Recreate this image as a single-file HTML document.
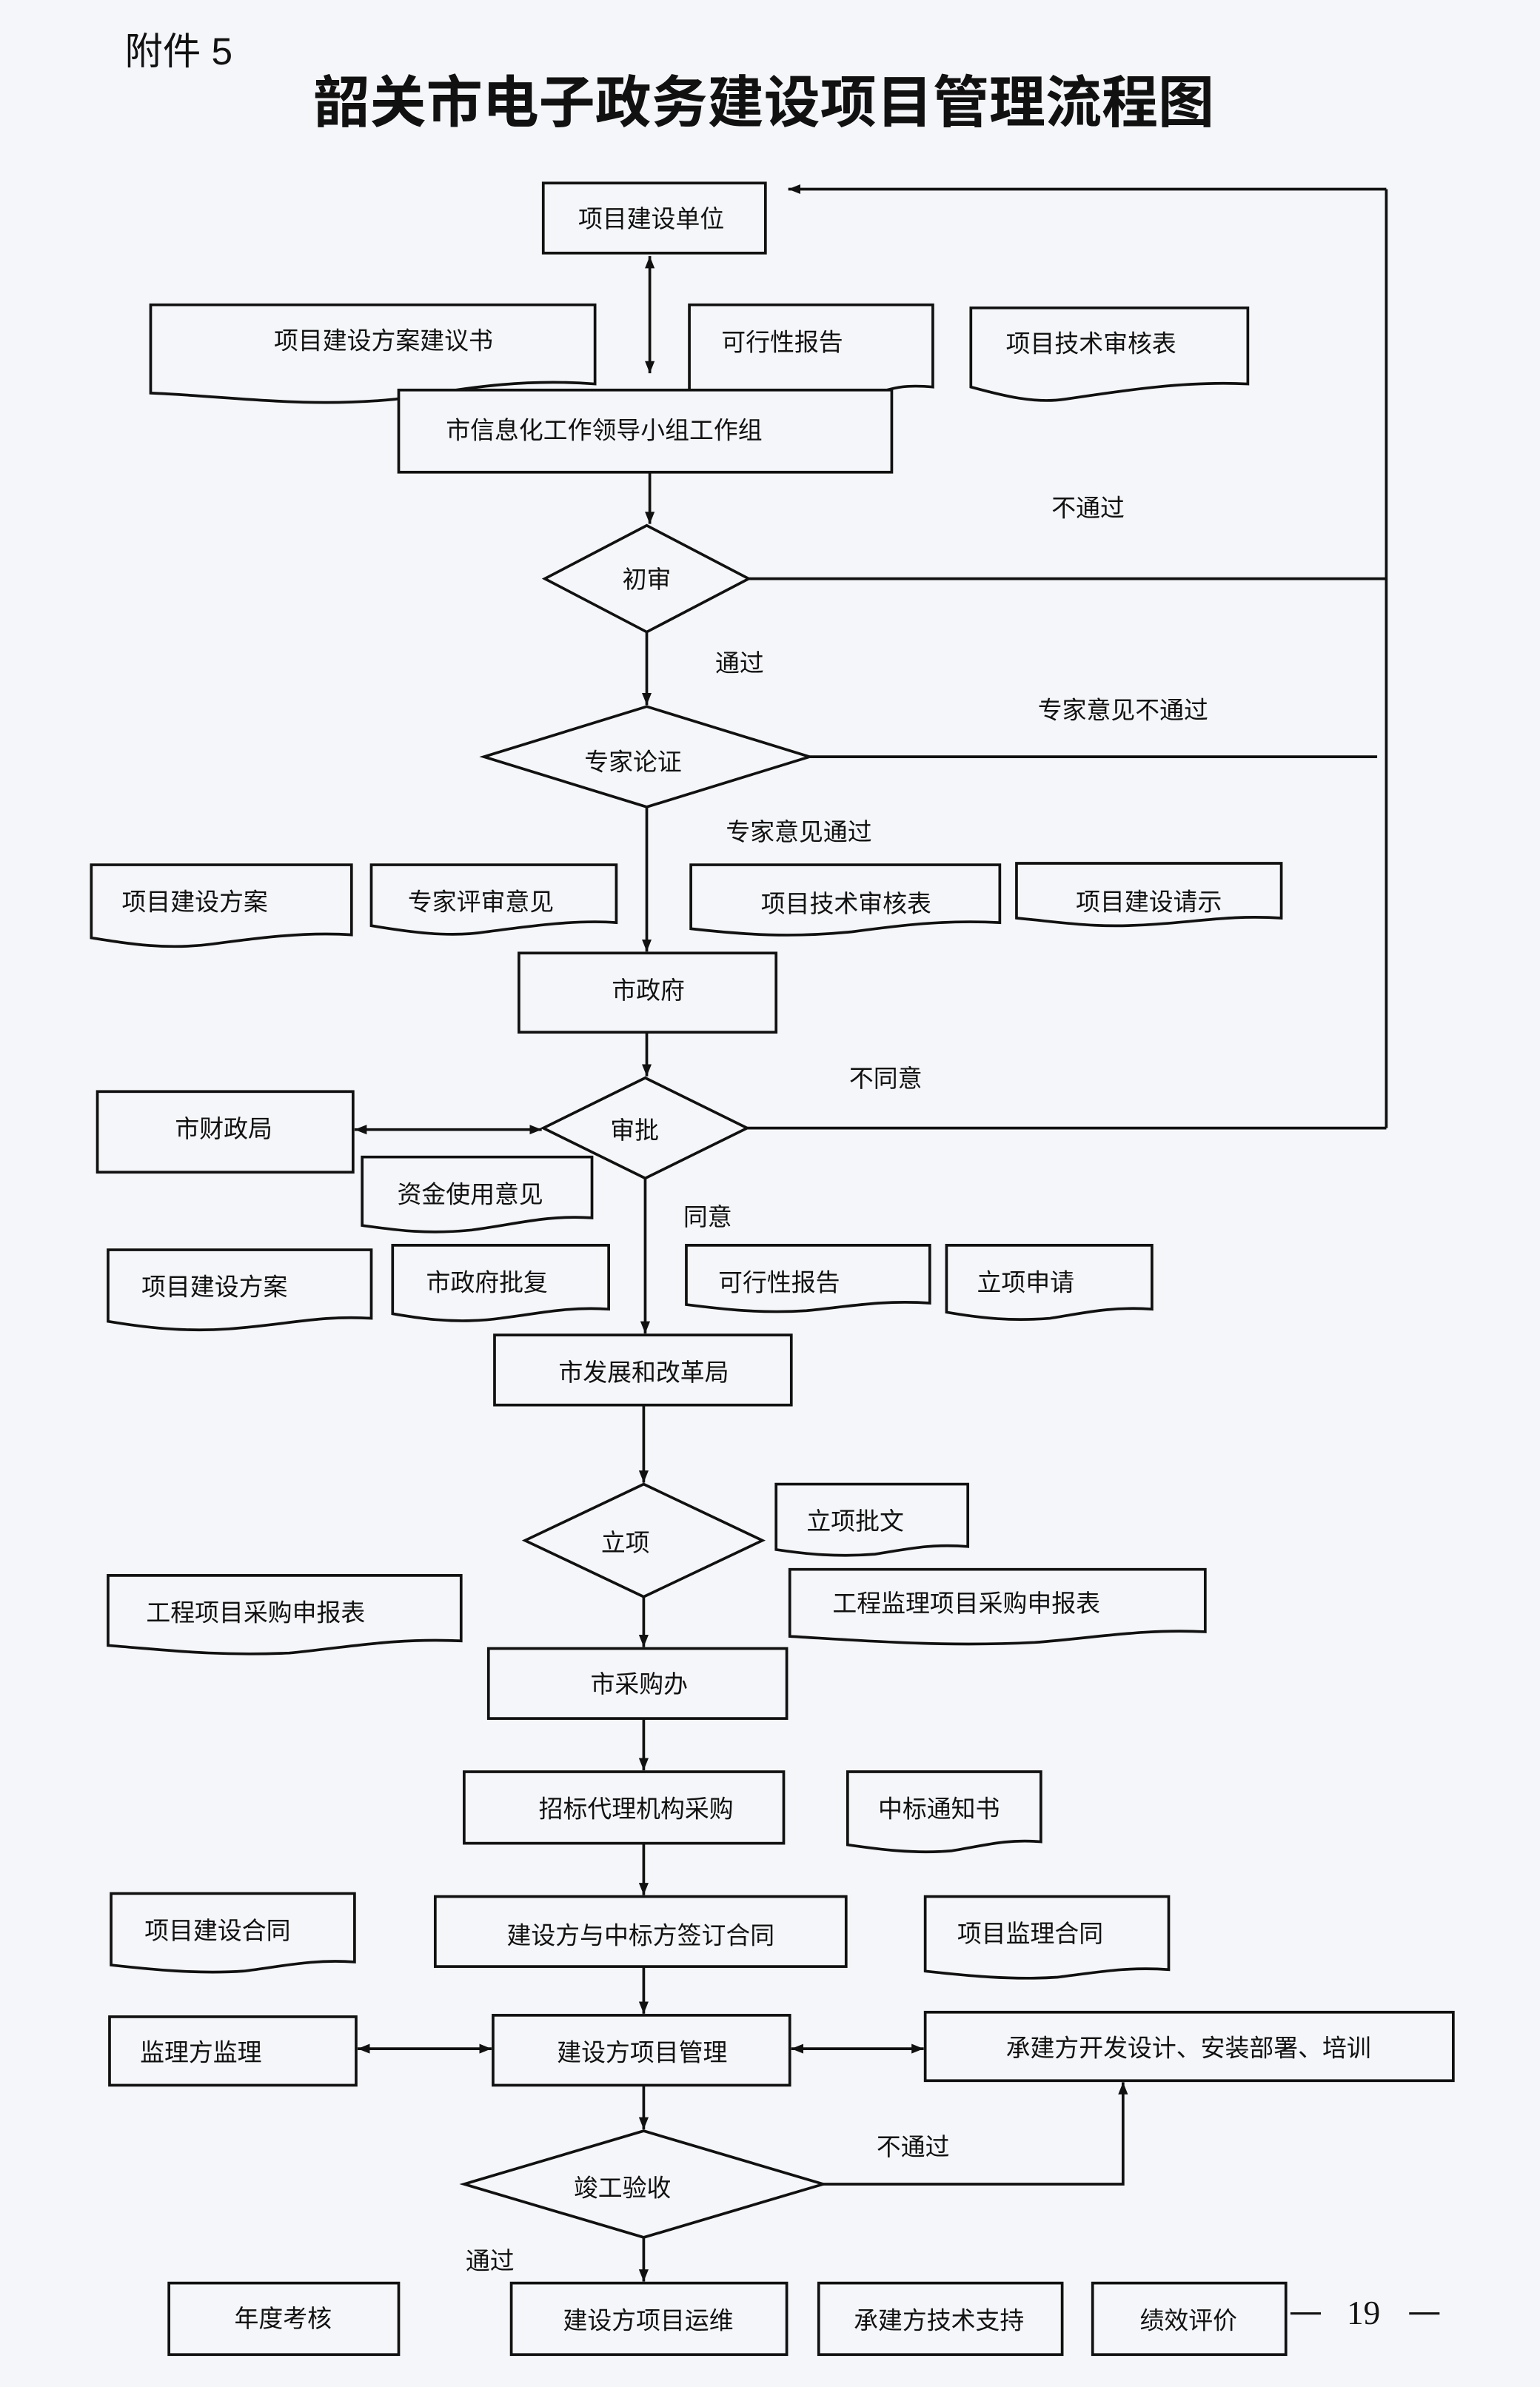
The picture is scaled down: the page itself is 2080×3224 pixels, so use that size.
<!DOCTYPE html>
<html><head><meta charset="utf-8"><style>
html,body{margin:0;padding:0;background:#f5f6f9;}
svg{display:block;}
text{font-family:"Liberation Sans","Noto Sans CJK SC",sans-serif;fill:#111;}
.t{font-size:16px;}
</style></head><body>
<svg width="2080" height="3224" viewBox="0 0 1012 1568" xmlns="http://www.w3.org/2000/svg">
<defs>
<marker id="a" viewBox="0 0 10 10" refX="10" refY="5" markerWidth="8" markerHeight="8" orient="auto-start-reverse" markerUnits="userSpaceOnUse"><path d="M0,1 L10,5 L0,9z" fill="#111"/></marker>
</defs>
<rect width="1012" height="1568" fill="#f5f6f9"/>
<text x="82" y="42" style="font-size:25px">附件 5</text>
<text x="502" y="80" text-anchor="middle" style="font-size:37px;font-weight:bold">韶关市电子政务建设项目管理流程图</text>
<!-- documents behind -->
<g fill="#f5f6f9" stroke="#111" stroke-width="1.8">
<path d="M99,200 H391 V252 C340,248 300,256 260,262 C200,268 150,260 99,258Z"/>
<path d="M453,200 H613 V254 C590,252 585,256 575,258 L453,258Z"/>
<path d="M638,202 H820 V252 C780,250 740,256 700,262 C680,265 660,260 638,254Z"/>
</g>
<g fill="none" stroke="#111" stroke-width="1.8">
<rect x="357" y="120" width="146" height="46"/>
<rect x="262" y="256" width="324" height="54" fill="#f5f6f9"/>
<rect x="341" y="626" width="169" height="52"/>
<rect x="64" y="717" width="168" height="53"/>
<rect x="325" y="877" width="195" height="46"/>
<rect x="321" y="1083" width="196" height="46"/>
<rect x="305" y="1164" width="210" height="47"/>
<rect x="286" y="1246" width="270" height="46"/>
<rect x="72" y="1325" width="162" height="45"/>
<rect x="324" y="1324" width="195" height="46"/>
<rect x="608" y="1322" width="347" height="45"/>
<rect x="111" y="1500" width="151" height="47"/>
<rect x="336" y="1500" width="181" height="47"/>
<rect x="538" y="1500" width="160" height="47"/>
<rect x="718" y="1500" width="127" height="47"/>
<path d="M358,380 L425,345 L492,380 L425,415Z"/>
<path d="M318,497 L425,464 L532,497 L425,530Z"/>
<path d="M357,741 L424,708 L491,741 L424,774Z"/>
<path d="M345,1012 L423,975 L501,1012 L423,1049Z"/>
<path d="M305,1435 L423,1400 L541,1435 L423,1470Z"/>
</g>
<g fill="#f5f6f9" stroke="#111" stroke-width="1.8">
<path d="M60,568 H231 V614 C200,612 170,616 140,620 C110,624 85,620 60,616Z"/>
<path d="M244,568 H405 V606 C380,604 350,608 320,612 C295,616 268,612 244,608Z"/>
<path d="M454,568 H657 V606 C620,604 590,608 560,612 C520,616 490,614 454,610Z"/>
<path d="M668,567 H842 V603 C810,601 790,605 760,607 C720,610 700,606 668,603Z"/>
<path d="M238,760 H389 V800 C360,798 340,804 310,808 C280,811 260,808 238,805Z"/>
<path d="M71,821 H244 V866 C210,864 190,870 150,873 C120,875 95,872 71,868Z"/>
<path d="M258,818 H400 V860 C370,858 350,864 320,867 C295,869 275,866 258,863Z"/>
<path d="M451,818 H611 V856 C580,854 560,858 530,861 C500,863 475,860 451,857Z"/>
<path d="M622,818 H757 V860 C730,858 710,863 690,866 C665,868 645,866 622,862Z"/>
<path d="M510,975 H636 V1016 C610,1014 595,1018 575,1021 C550,1023 530,1021 510,1018Z"/>
<path d="M71,1035 H303 V1078 C260,1076 230,1082 190,1086 C140,1088 110,1084 71,1081Z"/>
<path d="M519,1031 H792 V1072 C750,1070 720,1076 680,1079 C620,1082 570,1078 519,1075Z"/>
<path d="M557,1164 H684 V1210 C660,1208 645,1213 625,1216 C600,1218 578,1215 557,1212Z"/>
<path d="M73,1244 H233 V1289 C205,1287 185,1292 160,1295 C130,1297 100,1294 73,1291Z"/>
<path d="M608,1246 H768 V1294 C740,1292 720,1296 695,1299 C665,1301 635,1298 608,1295Z"/>
</g>
<g fill="none" stroke="#111" stroke-width="1.8">
<line x1="427" y1="168" x2="427" y2="245" marker-start="url(#a)" marker-end="url(#a)"/>
<line x1="911" y1="124" x2="518" y2="124" marker-end="url(#a)"/>
<line x1="911" y1="124" x2="911" y2="741"/>
<line x1="427" y1="310" x2="427" y2="344" marker-end="url(#a)"/>
<line x1="492" y1="380" x2="911" y2="380"/>
<line x1="425" y1="415" x2="425" y2="463" marker-end="url(#a)"/>
<line x1="532" y1="497" x2="905" y2="497"/>
<line x1="425" y1="530" x2="425" y2="625" marker-end="url(#a)"/>
<line x1="425" y1="678" x2="425" y2="707" marker-end="url(#a)"/>
<line x1="491" y1="741" x2="911" y2="741"/>
<line x1="233" y1="742" x2="356" y2="742" marker-start="url(#a)" marker-end="url(#a)"/>
<line x1="424" y1="774" x2="424" y2="876" marker-end="url(#a)"/>
<line x1="423" y1="923" x2="423" y2="974" marker-end="url(#a)"/>
<line x1="423" y1="1049" x2="423" y2="1082" marker-end="url(#a)"/>
<line x1="423" y1="1129" x2="423" y2="1163" marker-end="url(#a)"/>
<line x1="423" y1="1211" x2="423" y2="1245" marker-end="url(#a)"/>
<line x1="423" y1="1292" x2="423" y2="1323" marker-end="url(#a)"/>
<line x1="235" y1="1346" x2="323" y2="1346" marker-start="url(#a)" marker-end="url(#a)"/>
<line x1="520" y1="1346" x2="607" y2="1346" marker-start="url(#a)" marker-end="url(#a)"/>
<line x1="423" y1="1370" x2="423" y2="1399" marker-end="url(#a)"/>
<polyline points="541,1435 738,1435 738,1368" marker-end="url(#a)"/>
<line x1="423" y1="1470" x2="423" y2="1499" marker-end="url(#a)"/>
</g>
<g class="t">
<text x="428" y="149" text-anchor="middle">项目建设单位</text>
<text x="252" y="229" text-anchor="middle">项目建设方案建议书</text>
<text x="514" y="230" text-anchor="middle">可行性报告</text>
<text x="717" y="231" text-anchor="middle">项目技术审核表</text>
<text x="397" y="288" text-anchor="middle">市信息化工作领导小组工作组</text>
<text x="715" y="339" text-anchor="middle">不通过</text>
<text x="425" y="386" text-anchor="middle">初审</text>
<text x="486" y="441" text-anchor="middle">通过</text>
<text x="738" y="472" text-anchor="middle">专家意见不通过</text>
<text x="416" y="506" text-anchor="middle">专家论证</text>
<text x="525" y="552" text-anchor="middle">专家意见通过</text>
<text x="128" y="598" text-anchor="middle">项目建设方案</text>
<text x="316" y="598" text-anchor="middle">专家评审意见</text>
<text x="556" y="599" text-anchor="middle">项目技术审核表</text>
<text x="755" y="598" text-anchor="middle">项目建设请示</text>
<text x="426" y="656" text-anchor="middle">市政府</text>
<text x="582" y="714" text-anchor="middle">不同意</text>
<text x="147" y="747" text-anchor="middle">市财政局</text>
<text x="417" y="748" text-anchor="middle">审批</text>
<text x="309" y="790" text-anchor="middle">资金使用意见</text>
<text x="465" y="805" text-anchor="middle">同意</text>
<text x="141" y="851" text-anchor="middle">项目建设方案</text>
<text x="320" y="848" text-anchor="middle">市政府批复</text>
<text x="512" y="848" text-anchor="middle">可行性报告</text>
<text x="674" y="848" text-anchor="middle">立项申请</text>
<text x="423" y="907" text-anchor="middle">市发展和改革局</text>
<text x="411" y="1019" text-anchor="middle">立项</text>
<text x="562" y="1005" text-anchor="middle">立项批文</text>
<text x="168" y="1065" text-anchor="middle">工程项目采购申报表</text>
<text x="635" y="1059" text-anchor="middle">工程监理项目采购申报表</text>
<text x="420" y="1112" text-anchor="middle">市采购办</text>
<text x="418" y="1194" text-anchor="middle">招标代理机构采购</text>
<text x="617" y="1194" text-anchor="middle">中标通知书</text>
<text x="143" y="1274" text-anchor="middle">项目建设合同</text>
<text x="421" y="1277" text-anchor="middle">建设方与中标方签订合同</text>
<text x="677" y="1276" text-anchor="middle">项目监理合同</text>
<text x="132" y="1354" text-anchor="middle">监理方监理</text>
<text x="422" y="1354" text-anchor="middle">建设方项目管理</text>
<text x="781" y="1351" text-anchor="middle">承建方开发设计、安装部署、培训</text>
<text x="600" y="1416" text-anchor="middle">不通过</text>
<text x="409" y="1443" text-anchor="middle">竣工验收</text>
<text x="322" y="1491" text-anchor="middle">通过</text>
<text x="186" y="1529" text-anchor="middle">年度考核</text>
<text x="426" y="1530" text-anchor="middle">建设方项目运维</text>
<text x="617" y="1530" text-anchor="middle">承建方技术支持</text>
<text x="781" y="1530" text-anchor="middle">绩效评价</text>
</g>
<line x1="848" y1="1520" x2="868" y2="1520" stroke="#111" stroke-width="1.5"/>
<text x="896" y="1527" text-anchor="middle" style="font-size:22px;font-family:'Liberation Serif',serif">19</text>
<line x1="926" y1="1520" x2="946" y2="1520" stroke="#111" stroke-width="1.5"/>
</svg>
</body></html>
